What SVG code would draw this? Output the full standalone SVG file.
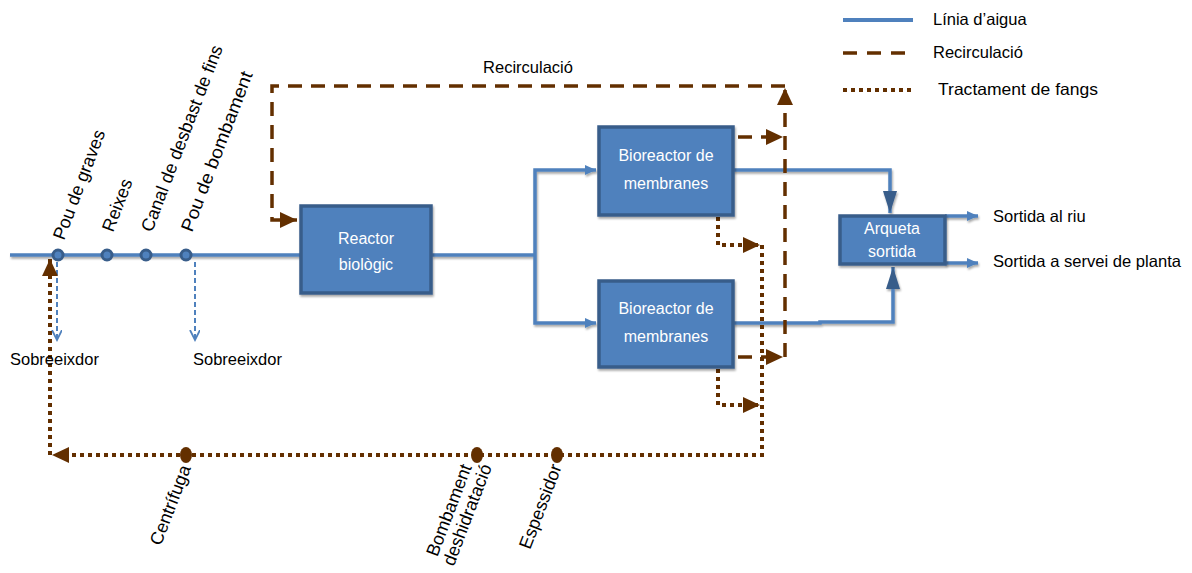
<svg xmlns="http://www.w3.org/2000/svg" width="1192" height="573" viewBox="0 0 1192 573">
<style>
.water{fill:none;stroke:#4f81bd;stroke-width:3.5}
.recirc{fill:none;stroke:#632f00;stroke-width:3.5;stroke-dasharray:14 9}
.sludge{fill:none;stroke:#632f00;stroke-width:4;stroke-dasharray:4 4}
.over{fill:none;stroke:#4f81bd;stroke-width:2;stroke-dasharray:5 3}
.box{fill:#4f81bd;stroke:#385d8a;stroke-width:3.5}
.bt{font-family:"Liberation Sans",Arial,sans-serif;font-size:16px;fill:#ffffff;text-anchor:middle}
.lbl{font-family:"Liberation Sans",Arial,sans-serif;font-size:16.5px;fill:#000000}
.rot{font-family:"Liberation Sans",Arial,sans-serif;font-size:18px;fill:#000000}
.pt{fill:#4f81bd;stroke:#385d8a;stroke-width:3}
.dot{fill:#632f00}
</style>
<defs>
<filter id="sh" x="-5%" y="-50%" width="110%" height="200%">
<feGaussianBlur in="SourceAlpha" stdDeviation="1.2"/>
<feOffset dx="1" dy="2" result="b"/>
<feComponentTransfer><feFuncA type="linear" slope="0.35"/></feComponentTransfer>
<feMerge><feMergeNode/><feMergeNode in="SourceGraphic"/></feMerge>
</filter>
<marker id="ab" markerUnits="userSpaceOnUse" markerWidth="20" markerHeight="18" refX="17" refY="8" orient="auto">
<path d="M0,0 L17,8 L0,16 z" fill="#632f00"/>
</marker>
<marker id="aw" markerUnits="userSpaceOnUse" markerWidth="14" markerHeight="12" refX="11" refY="5" orient="auto">
<path d="M0,0 L11,5 L0,10 z" fill="#4f81bd"/>
</marker>
<marker id="ad" markerUnits="userSpaceOnUse" markerWidth="24" markerHeight="16" refX="22" refY="7" orient="auto">
<path d="M0,0 L22,7 L0,14 z" fill="#385d8a"/>
</marker>
<marker id="ao" markerUnits="userSpaceOnUse" markerWidth="12" markerHeight="12" refX="10" refY="5" orient="auto">
<path d="M0,0 L10,5 L0,10" fill="none" stroke="#4f81bd" stroke-width="1.8"/>
</marker>
</defs>

<g id="legend">
<line x1="843" y1="20" x2="913" y2="20" class="water" style="stroke-width:4"/>
<text x="933" y="25" class="lbl">Línia d’aigua</text>
<line x1="843" y1="53" x2="913" y2="53" class="recirc" style="stroke-dasharray:14 10"/>
<text x="933" y="58" class="lbl">Recirculació</text>
<line x1="843" y1="90" x2="911" y2="90" class="sludge"/>
<text x="938" y="95" class="lbl" textLength="160" lengthAdjust="spacingAndGlyphs">Tractament de fangs</text>
</g>

<g id="connectors">
<g filter="url(#sh)">
<path class="water" d="M10,255 H300"/>
<path class="water" d="M432,255 H535"/>
<path class="water" d="M535,255 V170 H596" marker-end="url(#aw)"/>
<path class="water" d="M535,255 V323 H596" marker-end="url(#aw)"/>
<path class="water" d="M733,170 H890 V213" marker-end="url(#ad)"/>
<path class="water" d="M733,323 H820 V322 H893 V267" marker-end="url(#ad)"/>
<path class="water" d="M945,216 H978" marker-end="url(#aw)"/>
<path class="water" d="M945,263 H978" marker-end="url(#aw)"/>
</g>
<path class="over" d="M57,262 V340" marker-end="url(#ao)"/>
<path class="over" d="M195,262 V340" marker-end="url(#ao)"/>
<path class="recirc" d="M785,357 V88" marker-end="url(#ab)"/>
<path class="recirc" d="M785,86 H272 V220 H297" marker-end="url(#ab)"/>
<path class="recirc" d="M738,137 H783" marker-end="url(#ab)"/>
<path class="recirc" d="M738,357 H783" marker-end="url(#ab)"/>
<path class="sludge" d="M718,217 V245 H760" marker-end="url(#ab)"/>
<path class="sludge" d="M718,369 V405 H760" marker-end="url(#ab)"/>
<path class="sludge" d="M762,245 V455 H52" marker-end="url(#ab)"/>
<path class="sludge" d="M50,455 V259" marker-end="url(#ab)"/>
<text x="528" y="73" class="lbl" text-anchor="middle">Recirculació</text>
</g>

<g id="pretreatment">
<circle cx="58" cy="255" r="5" class="pt"/>
<circle cx="107" cy="255" r="5" class="pt"/>
<circle cx="146" cy="255" r="5" class="pt"/>
<circle cx="186" cy="255" r="5" class="pt"/>
<text class="rot" transform="translate(64,241) rotate(-69)">Pou de graves</text>
<text class="rot" transform="translate(113,233) rotate(-69)">Reixes</text>
<text class="rot" transform="translate(152,233) rotate(-69)">Canal de desbast de fins</text>
<text class="rot" transform="translate(192,233) rotate(-69)" textLength="170" lengthAdjust="spacingAndGlyphs">Pou de bombament</text>
<text x="10" y="365" class="lbl">Sobreeixdor</text>
<text x="193" y="365" class="lbl">Sobreeixdor</text>
</g>

<g id="reactor">
<rect x="301" y="206" width="130" height="87" class="box" filter="url(#sh)"/>
<text x="366" y="244" class="bt">Reactor</text>
<text x="366" y="270" class="bt">biològic</text>
</g>

<g id="bioreactor1">
<rect x="599" y="127" width="134" height="88" class="box" filter="url(#sh)"/>
<text x="666" y="161" class="bt">Bioreactor de</text>
<text x="666" y="189" class="bt">membranes</text>
</g>

<g id="bioreactor2">
<rect x="599" y="281" width="134" height="86" class="box" filter="url(#sh)"/>
<text x="666" y="314" class="bt">Bioreactor de</text>
<text x="666" y="342" class="bt">membranes</text>
</g>

<g id="arqueta">
<rect x="840" y="216" width="105" height="48" class="box" filter="url(#sh)"/>
<text x="892" y="234" class="bt">Arqueta</text>
<text x="892" y="257" class="bt">sortida</text>
<text x="993" y="222" class="lbl">Sortida al riu</text>
<text x="993" y="267" class="lbl" textLength="188" lengthAdjust="spacingAndGlyphs">Sortida a servei de planta</text>
</g>

<g id="sludge-line">
<ellipse cx="186" cy="455" rx="6" ry="8" class="dot"/>
<ellipse cx="477" cy="455" rx="6" ry="8" class="dot"/>
<ellipse cx="557" cy="455" rx="6" ry="8" class="dot"/>
<text class="rot" text-anchor="end" transform="translate(191,468) rotate(-69)">Centrífuga</text>
<text class="rot" text-anchor="end" transform="translate(472,467) rotate(-69)">Bombament</text>
<text class="rot" text-anchor="end" transform="translate(492,467) rotate(-69)">deshidratació</text>
<text class="rot" text-anchor="end" transform="translate(562,467) rotate(-69)">Espessidor</text>
</g>
</svg>
